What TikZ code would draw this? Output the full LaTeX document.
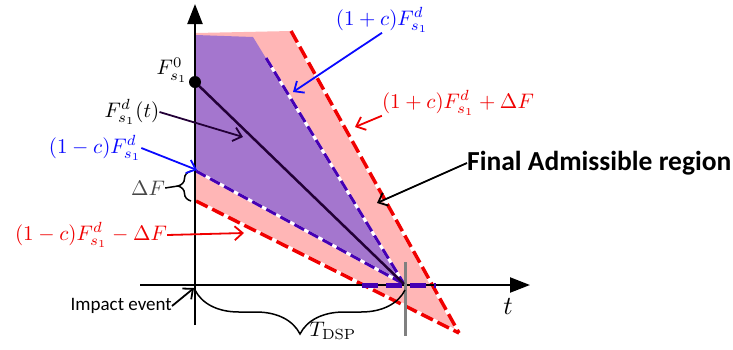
\documentclass[tikz,border=0pt]{standalone}
\usepackage{amsmath}
\usepackage{graphicx}
\usepackage{fontspec}
\setsansfont{Carlito}
\usetikzlibrary{arrows.meta,decorations.pathreplacing}
\definecolor{pinkfill}{RGB}{255,182,182}
\definecolor{purpfill}{RGB}{164,118,206}
\definecolor{reddash}{RGB}{240,0,0}
\definecolor{purpdash}{RGB}{70,0,180}
\definecolor{lblue}{RGB}{10,10,255}
\definecolor{darkline}{RGB}{35,0,55}
\definecolor{dfgray}{RGB}{70,70,70}
\newcommand{\mlab}[1]{\scalebox{2.1}{$#1$}}
\tikzset{
 lbl/.style={inner sep=0pt},
 arr/.style={line width=1.8pt, -{Straight Barb[length=8pt,width=14pt,line width=1.8pt]}},
 reddashed/.style={draw=reddash, line width=3.5pt, dash pattern=on 13pt off 5pt},
 purpdashed/.style={draw=purpdash, line width=3pt, dash pattern=on 11pt off 5pt},
 whiteunder/.style={draw=white, line width=3.5pt},
 axisline/.style={line width=2.2pt, -{Triangle[length=20pt,width=15pt]}},
 bracestyle/.style={line width=1.5pt, decorate},
}
\begin{document}
\begin{tikzpicture}[x=1pt,y=-1pt]
\useasboundingbox (0,0) rectangle (733,349);
% regions
\coordinate (PA) at (196,33);
\coordinate (PB) at (291,31);
\coordinate (PC) at (459,333);
\coordinate (PD) at (196,201);
\fill[pinkfill] (PA) -- (PB) -- (PC) -- (PD) -- cycle;
\coordinate (QA) at (196,35);
\coordinate (QB) at (253,37);
\coordinate (P) at (404,284);
\coordinate (QD) at (196,171);
\coordinate (QS) at (266,58);
\fill[purpfill] (QA) -- (QB) -- (P) -- (QD) -- cycle;
% boundary lines
\draw[whiteunder] (PB) -- (PC);
\draw[whiteunder] (PD) -- (PC);
\draw[reddashed] (PB) -- (PC);
\draw[reddashed] (PD) -- (PC);
\draw[whiteunder, line width=3pt] (QS) -- (P);
\draw[whiteunder, line width=3pt] (QD) -- (P);
\draw[purpdashed] (QS) -- (P);
\draw[purpdashed] (QD) -- (P);
% axes
\coordinate (O) at (195,285);
\coordinate (XL) at (140,285);
\coordinate (XR) at (530,285);
\coordinate (YB) at (195,325);
\coordinate (YT) at (195,4);
\draw[axisline] (XL) -- (XR);
\draw[axisline] (YB) -- (YT);
% horizontal dashed segment
\coordinate (H1) at (362,285);
\coordinate (H2) at (436,285);
\draw[purpdash, line width=5pt, dash pattern=on 16pt off 8pt] (H1) -- (H2);
% gray vertical
\coordinate (G1) at (405,262);
\coordinate (G2) at (405,336);
\draw[black!50, line width=3pt] (G1) -- (G2);
% nominal line
\coordinate (F0) at (195,82);
\draw[darkline, line width=2.5pt] (F0) -- (P);
\fill[black] (F0) circle (6pt);
% braces
\coordinate (BT1) at (405,290);
\coordinate (BT2) at (195,290);
\draw[bracestyle, decoration={brace, amplitude=44pt}] (BT1) -- (BT2);
\coordinate (BD1) at (191,201);
\coordinate (BD2) at (191,171);
\draw[bracestyle, decoration={brace, amplitude=13pt}] (BD1) -- (BD2);
\coordinate (BDtip) at (178,186);
% labels
\node[lbl] (f0) at (172,70) {\mlab{F^0_{s_1}}};
\node[lbl] (ft) at (132,112) {\mlab{F^d_{s_1}(t)}};
\node[lbl, text=lblue] (bm) at (95,148) {\mlab{(1-c)F^d_{s_1}}};
\node[lbl, text=reddash] (rm) at (91,235) {\mlab{(1-c)F^d_{s_1}-\Delta F}};
\node[lbl, text=dfgray] (df) at (148,188) {\mlab{\Delta F}};
\node[lbl, text=reddash] (rp) at (458,103) {\mlab{(1+c)F^d_{s_1}+\Delta F}};
\node[lbl, text=lblue] (bp) at (382,20) {\mlab{(1+c)F^d_{s_1}}};
\node[lbl] (tl) at (508,306) {\scalebox{2.6}{$t$}};
\node[lbl] (td) at (333,331) {\mlab{T_{\mathrm{DSP}}}};
\node[inner sep=0pt, anchor=west, font=\sffamily\bfseries\fontsize{27.5}{30}\selectfont] (far) at (467,163) {Final Admissible region};
\node[inner sep=0pt, anchor=east, font=\sffamily\fontsize{19}{22}\selectfont] (imp) at (172,306) {Impact event};
% arrow targets
\coordinate (tft) at (243,137);
\coordinate (tbm) at (197,170);
\coordinate (trm) at (244,233);
\coordinate (trp) at (355,127);
\coordinate (tbp) at (293,92);
\coordinate (tfar) at (377,203);
\coordinate (timp) at (194,288);
% arrows
\draw[arr, darkline] (ft.east) -- (tft);
\draw[arr, lblue] (bm.east) -- (tbm);
\draw[arr, reddash] (rm.east) -- (trm);
\draw[arr, reddash] (rp.south west) -- (trp);
\draw[arr, lblue] (bp.south) -- (tbp);
\draw[arr, black] (far.west) -- (tfar);
\draw[arr, black] (imp.east) -- (timp);
\draw[line width=1.5pt, black] (df.east) -- (BDtip);
\end{tikzpicture}
\end{document}
